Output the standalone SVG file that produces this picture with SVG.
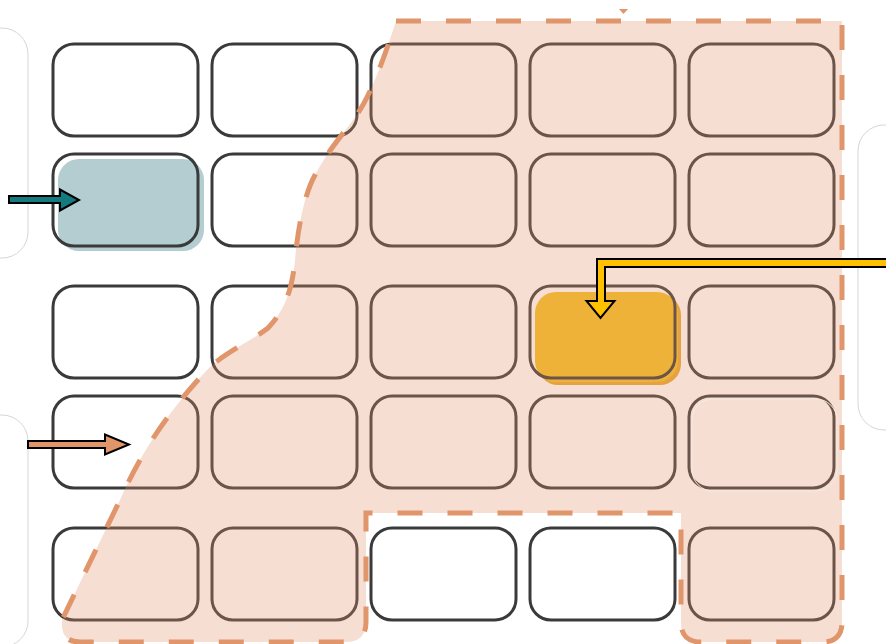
<svg xmlns="http://www.w3.org/2000/svg" width="886" height="644" viewBox="0 0 886 644">
<style>
.node{fill:#ffffff;stroke:#3a3a3a;stroke-width:3}
.outline{fill:none;stroke:#3a3a3a;stroke-width:3}
.ghost{fill:none;stroke:#d6d6d6;stroke-width:1}
.region{fill:#e0946a;fill-opacity:0.3;stroke:#e0956a;stroke-width:5;stroke-dasharray:25 25}
.arrow{stroke:#000000;stroke-width:2;stroke-linejoin:miter}
</style>
<rect x="0" y="0" width="886" height="644" fill="#ffffff"/>
<g id="background">
  <rect class="ghost" x="-120" y="28" width="148" height="230" rx="26"/>
  <rect class="ghost" x="-120" y="415" width="148" height="232" rx="26"/>
  <rect class="ghost" x="858" y="125" width="150" height="305" rx="26"/>
</g>
<g id="nodes">
  <g id="n11"><rect class="node" x="53" y="44" width="145" height="92" rx="21"/></g>
  <g id="n12"><rect class="node" x="212" y="44" width="145" height="92" rx="21"/></g>
  <g id="n13"><rect class="node" x="371" y="44" width="145" height="92" rx="21"/></g>
  <g id="n14"><rect class="node" x="530" y="44" width="145" height="92" rx="21"/></g>
  <g id="n15"><rect class="node" x="689" y="44" width="145" height="92" rx="21"/></g>
  <g id="n21">
    <rect x="58" y="159" width="146" height="92" rx="21" fill="#b3cdd1"/>
    <rect class="outline" x="53" y="154" width="145" height="92" rx="21"/>
  </g>
  <g id="n22"><rect class="node" x="212" y="154" width="145" height="92" rx="21"/></g>
  <g id="n23"><rect class="node" x="371" y="154" width="145" height="92" rx="21"/></g>
  <g id="n24"><rect class="node" x="530" y="154" width="145" height="92" rx="21"/></g>
  <g id="n25"><rect class="node" x="689" y="154" width="145" height="92" rx="21"/></g>
  <g id="n31"><rect class="node" x="53" y="286" width="145" height="92" rx="21"/></g>
  <g id="n32"><rect class="node" x="212" y="286" width="145" height="92" rx="21"/></g>
  <g id="n33"><rect class="node" x="371" y="286" width="145" height="92" rx="21"/></g>
  <g id="n34">
    <rect x="537" y="294" width="144" height="91" rx="21" fill="#e8a830"/>
    <rect x="535" y="292" width="143" height="90" rx="21" fill="#f3bf22"/>
    <rect class="outline" x="530" y="286" width="145" height="92" rx="21"/>
  </g>
  <g id="n35"><rect class="node" x="689" y="286" width="145" height="92" rx="21"/></g>
  <g id="n41"><rect class="node" x="53" y="396" width="145" height="92" rx="21"/></g>
  <g id="n42"><rect class="node" x="212" y="396" width="145" height="92" rx="21"/></g>
  <g id="n43"><rect class="node" x="371" y="396" width="145" height="92" rx="21"/></g>
  <g id="n44"><rect class="node" x="530" y="396" width="145" height="92" rx="21"/></g>
  <g id="n45"><rect class="node" x="689" y="396" width="145" height="92" rx="21"/></g>
  <g id="n51"><rect class="node" x="53" y="528" width="145" height="92" rx="21"/></g>
  <g id="n52"><rect class="node" x="212" y="528" width="145" height="92" rx="21"/></g>
  <g id="n53"><rect class="node" x="371" y="528" width="145" height="92" rx="21"/></g>
  <g id="n54"><rect class="node" x="530" y="528" width="145" height="92" rx="21"/></g>
  <g id="n55"><rect class="node" x="689" y="528" width="145" height="92" rx="21"/></g>
</g>
<g id="region">
  <path class="region" d="M396 21 L842 21 L842 622 Q842 642 822 642 L701 642 Q681 642 681 622 L681 513 L366 513 L366 622 Q366 642 346 642 L80 642 Q60 642 62 620 L120 500 C140 455 165 415 207 370 C225 352 250 342 268 328 C285 310 292 290 295 260 C298 228 304 195 315 175 C328 150 345 132 358 113 C370 95 382 65 396 21 Z"/>
  <polygon points="619,9 628,9 623.5,14" fill="#e0956a"/>
  <rect x="692" y="399" width="145" height="92" rx="21" fill="none" stroke="#f2ebe6" stroke-width="1"/>
</g>
<g id="connectors">
  <polygon class="arrow" fill="#137a80" points="9,196 60,196 60,189.5 79,200 60,210.5 60,203 9,203"/>
  <polygon class="arrow" fill="#e0956a" points="28,441 105,441 105,434.5 129,444.5 105,454.5 105,448 28,448"/>
  <polygon class="arrow" fill="#ffc000" points="890,259 597,259 597,301 586.5,301 600.5,318 614.5,301 605,301 605,267 890,267"/>
</g>
</svg>
